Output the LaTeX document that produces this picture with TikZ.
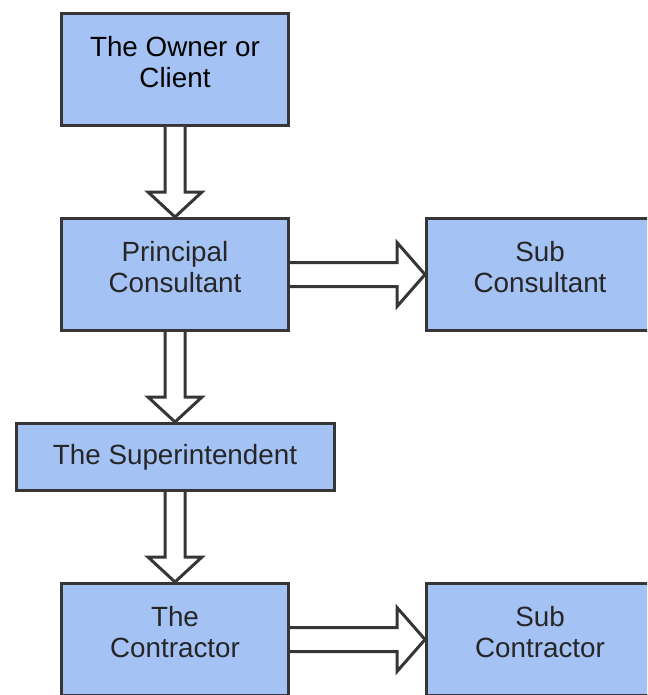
\documentclass[tikz,border=0pt]{standalone}
\usepackage{fontspec}
\setmainfont{Liberation Sans}
\usetikzlibrary{positioning,calc}

\definecolor{boxfill}{HTML}{A4C2F4}
\definecolor{boxline}{HTML}{363636}
\definecolor{boxtext}{HTML}{262626}

\tikzset{
  box/.style={draw=boxline, fill=boxfill, line width=3pt, align=center,
    minimum width=227pt, minimum height=112pt, text=boxtext,
    font=\fontsize{27.8pt}{31pt}\selectfont},
  twoline/.style={text depth=16pt},
  flow/.style={draw=boxline, line width=3pt, fill=white}
}

% hollow block arrow downwards, from #1 to #2
\newcommand{\flowdown}[2]{%
  \draw[flow] ($(#1.south)+(-10,0)$) -- ($(#2.north)+(-10,-25)$) -- ++(-17,0)
    -- (#2.north) -- ($(#2.north)+(27,-25)$) -- ++(-17,0) -- ($(#1.south)+(10,0)$);}
% hollow block arrow to the right, from #1 to #2
\newcommand{\flowright}[2]{%
  \draw[flow] ($(#1.east)+(0,-12)$) -- ($(#2.west)+(-28,-12)$) -- ++(0,-20)
    -- (#2.west) -- ($(#2.west)+(-28,32)$) -- ++(0,-20) -- ($(#1.east)+(0,12)$);}

\begin{document}
\begin{tikzpicture}[x=1pt,y=-1pt,on grid]
        \useasboundingbox (0,0) rectangle (647,695);
        \clip (0,0) rectangle (647,695);
        \node[box, twoline, text=black] (owner) at (175,69.5) {The Owner or\\Client};
        \node[box, twoline] (principal) [below=205pt of owner] {Principal\\Consultant};
        \node[box, twoline] (subcons) [right=365pt of principal] {Sub\\Consultant};
        \node[box, minimum width=318pt, minimum height=67pt] (super) [below=182.5pt of principal] {The Superintendent};
        \node[box, twoline] (contractor) [below=182.5pt of super] {The\\Contractor};
        \node[box, twoline] (subcont) [right=365pt of contractor] {Sub\\Contractor};
        \flowdown{owner}{principal}
        \flowright{principal}{subcons}
        \flowdown{principal}{super}
        \flowdown{super}{contractor}
        \flowright{contractor}{subcont}
      \end{tikzpicture}
\end{document}
